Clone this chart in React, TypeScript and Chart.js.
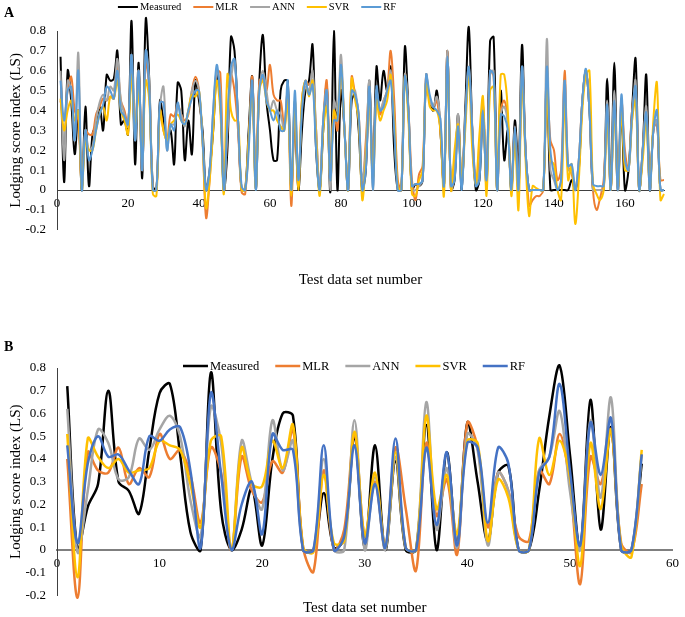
import React, { useEffect, useRef } from 'react';
import { Chart, registerables } from 'chart.js';
Chart.register(...registerables);

const seriesNames = ['Measured', 'MLR', 'ANN', 'SVR', 'RF'];
const xTicksA = [0, 20, 40, 60, 80, 100, 120, 140, 160];
const xTicksB = [0, 10, 20, 30, 40, 50, 60];
const yTicks = [-0.2, -0.1, 0, 0.1, 0.2, 0.3, 0.4, 0.5, 0.6, 0.7, 0.8];
const xTitle = 'Test data set number';
const yTitle = 'Lodging score index (LS)';

// Panel A (test data set numbers 1..171)
const measuredA = [.67,.04,.60,.45,.18,.40,.00,.42,.02,.28,.33,.42,.30,.58,.55,.56,.70,.33,.35,.28,.85,.13,.64,.06,.86,.55,.02,.00,.45,.35,.25,.30,.13,.54,.50,.15,.35,.18,.55,.45,.30,.00,.10,.30,.58,.45,.00,.20,.77,.70,.35,.00,.00,.30,.57,.00,.55,.78,.45,.30,.15,.15,.50,.55,.55,.00,.35,.00,.30,.50,.55,.73,.20,.00,.30,.53,-.01,.80,.00,.50,.30,.00,.45,.48,.30,.00,.10,.55,.06,.62,.45,.60,.50,.62,.20,.00,.00,.72,.40,.00,.03,.02,.05,.55,.45,.40,.50,.30,.02,.70,.00,.05,.38,.00,.40,.82,.30,.00,.05,.40,.02,.75,.77,.00,.50,.15,.30,.00,.35,.10,.73,.20,.00,.00,.00,.00,.00,.60,.00,.00,.00,.00,.00,.00,.05,.00,.10,.45,.60,.40,.00,.00,.00,.00,.56,.00,.64,.00,.40,.00,.10,.40,.66,.00,.20,.58,.00,.30,.35,.00,.00];
const mlrA = [.45,.35,.50,.57,.40,.35,.02,.30,.28,.28,.38,.42,.46,.45,.47,.46,.62,.45,.40,.33,.60,.30,.60,.10,.65,.50,.00,.00,.40,.30,.25,.38,.37,.43,.38,.35,.38,.50,.57,.50,.25,-.14,.05,.35,.60,.59,.00,.30,.58,.50,.30,-.01,-.02,.25,.57,.05,.55,.56,.50,.63,.48,.45,.45,.32,.50,-.08,.40,.02,.45,.55,.53,.55,.30,.00,.35,.55,.05,.40,.30,.60,.30,.00,.57,.48,.38,.00,.25,.50,.05,.50,.38,.45,.50,.70,.45,.05,.00,.58,.40,.05,-.05,.08,.12,.58,.45,.42,.45,.30,.02,.70,.00,.10,.35,.03,.35,.60,.30,.05,.15,.43,.05,.60,.57,.00,.40,.45,.35,.00,.32,.00,.60,.20,-.08,-.05,-.03,-.03,.00,.55,.25,.20,.05,.10,.60,.12,.08,.00,.15,.45,.58,.45,.00,-.10,-.04,.05,.40,.00,.45,.00,.45,.20,.10,.40,.50,.00,.20,.40,.02,.30,.35,.05,.05];
const annA = [.60,.15,.55,.50,.25,.69,.00,.30,.20,.22,.35,.44,.48,.45,.52,.50,.66,.45,.38,.32,.68,.25,.60,.10,.70,.55,.00,.00,.42,.52,.20,.33,.33,.42,.38,.32,.40,.50,.55,.50,.25,.00,.10,.40,.60,.50,.00,.30,.55,.65,.35,.00,.00,.25,.50,.00,.50,.60,.50,.40,.45,.40,.38,.30,.50,.00,.45,.05,.40,.52,.50,.60,.30,.00,.35,.50,.00,.45,.40,.68,.30,.00,.50,.50,.35,.05,.20,.55,.00,.50,.40,.45,.50,.60,.35,.00,.00,.58,.40,.00,.00,.02,.05,.58,.45,.42,.47,.35,.02,.70,.00,.08,.38,.02,.35,.62,.30,.03,.10,.42,.02,.58,.60,.00,.38,.42,.33,.00,.30,.00,.62,.20,.00,.00,.00,.00,.00,.76,.10,.05,.00,.05,.55,.10,.10,.00,.15,.45,.60,.40,.00,.00,.00,.00,.45,.00,.50,.00,.45,.15,.10,.35,.55,.00,.20,.42,.00,.30,.35,.00,.00];
const svrA = [.46,.30,.40,.45,.35,.40,.00,.25,.20,.20,.30,.38,.42,.35,.47,.46,.55,.40,.35,.28,.58,.30,.50,.15,.55,.45,-.02,-.03,.40,.30,.25,.33,.35,.38,.35,.33,.40,.48,.47,.50,.25,-.09,.05,.30,.55,.40,-.02,.58,.40,.35,.35,.00,.00,.25,.50,.00,.50,.55,.45,.40,.40,.35,.32,.30,.45,-.03,.45,.00,.45,.55,.47,.55,.25,-.03,.30,.42,.05,.40,.35,.62,.30,.00,.56,.45,.35,-.05,.15,.45,.05,.45,.35,.40,.45,.58,.35,.02,.00,.57,.35,-.02,-.03,.05,.10,.55,.42,.40,.40,.30,-.03,.65,.00,.20,.33,.05,.30,.58,.20,.03,.28,.47,-.03,.50,.52,.00,.58,.58,.40,-.03,.25,-.10,.55,.15,-.13,.02,.01,.00,.00,.50,.15,.13,.00,-.05,.45,.05,.13,-.17,.05,.40,.58,.60,.03,-.02,-.05,.00,.35,.00,.40,.00,.40,.10,.10,.35,.45,.00,.15,.35,.00,.35,.54,-.05,-.02];
const rfA = [.55,.35,.50,.52,.25,.60,.00,.30,.15,.20,.30,.38,.43,.52,.50,.46,.60,.40,.37,.33,.68,.25,.60,.10,.70,.50,.00,.00,.44,.44,.20,.33,.30,.44,.35,.33,.40,.46,.50,.50,.25,.00,.10,.40,.63,.45,.00,.35,.62,.66,.35,.02,.00,.20,.55,.00,.50,.58,.45,.40,.35,.40,.30,.30,.55,.00,.50,.05,.40,.55,.48,.53,.20,.00,.35,.50,.05,.35,.35,.63,.30,.00,.50,.48,.38,.00,.10,.52,.00,.52,.40,.42,.50,.55,.30,.00,.00,.57,.40,.02,.03,.03,.05,.58,.48,.42,.40,.36,.02,.67,.02,.05,.32,.00,.35,.62,.30,.02,.05,.40,.05,.60,.58,.00,.38,.37,.30,.00,.32,.00,.62,.20,.00,.00,.00,.00,.00,.62,.20,.08,.00,.05,.55,.12,.13,.00,.15,.45,.61,.40,.03,.02,.02,.02,.43,.00,.45,.00,.48,.15,.10,.38,.52,.00,.20,.39,.00,.30,.40,.00,.00];

// Panel B (test data set numbers 1..57)
const measuredB = [.72,.00,.19,.29,.70,.30,.26,.16,.44,.69,.73,.42,.08,.00,.78,.17,.00,.09,.27,.02,.40,.60,.59,.00,.00,.25,.01,.05,.50,.01,.46,.00,.39,.00,.00,.55,.00,.43,.02,.56,.30,.04,.34,.37,.00,.00,.26,.59,.81,.42,.01,.66,.09,.54,.00,.00,.38];
const mlrB = [.40,-.21,.43,.35,.34,.45,.29,.36,.32,.51,.40,.44,.33,.12,.45,.34,.00,.41,.26,.21,.39,.34,.53,.01,-.095,.35,.00,.09,.51,.06,.30,.01,.45,.18,-.09,.47,.15,.31,-.02,.56,.45,.10,.34,.26,.06,.04,.35,.29,.51,.29,-.15,.41,.29,.53,.03,-.01,.29];
const annB = [.62,-.01,.26,.53,.47,.31,.32,.49,.44,.53,.59,.50,.22,.06,.63,.47,.00,.48,.29,.18,.57,.35,.48,.00,.00,.40,.00,.00,.57,.00,.32,.00,.41,.01,.00,.65,.09,.36,.01,.51,.44,.02,.34,.26,.00,.00,.35,.41,.61,.26,.00,.57,.23,.67,.00,.00,.42];
const svrB = [.51,-.12,.49,.41,.36,.40,.34,.35,.36,.48,.46,.44,.29,.10,.48,.50,.00,.45,.29,.28,.48,.36,.55,.01,-.01,.33,.03,.04,.52,.06,.34,.01,.43,.01,.00,.59,.18,.33,.07,.48,.47,.04,.31,.23,.00,.00,.49,.33,.48,.32,-.07,.47,.18,.53,.02,-.03,.44];
const rfB = [.46,.03,.38,.50,.41,.42,.35,.29,.50,.48,.53,.54,.35,.01,.69,.33,.00,.20,.30,.07,.51,.44,.44,.00,.00,.46,.00,.06,.46,.03,.29,.01,.49,.01,.00,.45,.11,.43,.02,.47,.45,.12,.45,.38,.00,.00,.34,.41,.73,.35,.02,.56,.33,.58,.00,.00,.42];

const FONT = '"Liberation Serif", "Times New Roman", serif';

function decorPlugin(p: any) {
  return {
    id: 'decor' + p.letter,
    afterDraw(chart: any) {
      const ctx = chart.ctx;
      ctx.save();
      ctx.fillStyle = '#000';
      ctx.textBaseline = 'middle';
      ctx.textAlign = 'left';
      ctx.font = 'bold 14px ' + FONT;
      ctx.fillText(p.letter, 4, p.letterY);
      ctx.font = p.legendFont + 'px ' + FONT;
      const lineLen = p.legendLine, gap = 2, spacing = p.legendSpacing;
      const widths = seriesNames.map((n) => lineLen + gap + ctx.measureText(n).width);
      const total = widths.reduce((a, b) => a + b, 0) + spacing * (seriesNames.length - 1);
      let x = p.legendCx - total / 2;
      seriesNames.forEach((n, i) => {
        ctx.strokeStyle = p.colors[i];
        ctx.lineWidth = p.legendLW;
        ctx.beginPath();
        ctx.moveTo(x, p.legendY);
        ctx.lineTo(x + lineLen, p.legendY);
        ctx.stroke();
        ctx.fillStyle = '#000';
        ctx.fillText(n, x + lineLen + gap, p.legendY + 0.5);
        x += widths[i] + spacing;
      });
      ctx.restore();
    },
  };
}

function makeConfig(p: any) {
  return {
    type: 'line',
    data: {
      datasets: seriesNames.map((name, i) => ({
        label: name,
        data: p.series[i].map((v: number, j: number) => ({ x: j + 1, y: v })),
        borderColor: p.colors[i],
        backgroundColor: p.colors[i],
        borderWidth: p.lineWidth,
        pointRadius: 0,
        tension: 0.35,
        fill: false,
        clip: false,
        order: 5 - i,
      })),
    },
    options: {
      animation: false,
      responsive: false,
      events: [],
      elements: { line: { capBezierPoints: false } },
      layout: { padding: { top: p.padTop, right: p.padRight, left: 0, bottom: p.padBottom } },
      plugins: { legend: { display: false }, tooltip: { enabled: false } },
      scales: {
        x: {
          type: 'linear',
          position: { y: 0 },
          min: 0,
          max: p.xMax,
          grid: { display: false, drawTicks: false },
          border: { display: true, color: p.xBorderColor, width: p.xBorderWidth },
          ticks: { padding: 6, color: '#000', font: { size: 13, family: FONT }, maxRotation: 0, autoSkip: false, callback: (v: any) => String(v) },
          afterBuildTicks: (s: any) => { s.ticks = p.xTicks.map((v: number) => ({ value: v })); },
          afterFit: (s: any) => { s.height = p.xAxisH; },
          title: { display: true, text: xTitle, color: '#000', font: { size: 15, family: FONT }, padding: 0 },
        },
        y: {
          type: 'linear',
          position: 'left',
          min: -0.2,
          max: 0.8,
          grid: { display: false, drawTicks: false },
          border: { display: true, color: '#404040', width: 1 },
          ticks: { padding: 11, color: '#000', font: { size: 13, family: FONT }, callback: (v: any) => (Math.abs(v) < 1e-9 ? '0' : Number(v).toFixed(1)) },
          afterBuildTicks: (s: any) => { s.ticks = yTicks.map((v) => ({ value: v })); },
          afterFit: (s: any) => { s.width = 57; },
          title: { display: true, text: yTitle, color: '#000', font: { size: 15, family: FONT }, padding: { top: 7, bottom: 0 } },
        },
      },
    },
    plugins: [decorPlugin(p)],
  } as any;
}

export default function App() {
  const refA = useRef<HTMLCanvasElement>(null);
  const refB = useRef<HTMLCanvasElement>(null);
  useEffect(() => {
    const colorsA = ['#000000', '#ED7D31', '#A5A5A5', '#FFC000', '#5B9BD5'];
    const colorsB = ['#000000', '#ED7D31', '#A5A5A5', '#FFC000', '#4472C4'];
    const a = new Chart(refA.current as HTMLCanvasElement, makeConfig({
      series: [measuredA, mlrA, annA, svrA, rfA], colors: colorsA, lineWidth: 2,
      padTop: 31, padRight: 21, padBottom: 70.2, xMax: 171, xTicks: xTicksA, xAxisH: 99,
      xBorderColor: '#404040', xBorderWidth: 1,
      letter: 'A', letterY: 13, legendCx: 257, legendY: 7, legendLW: 2, legendFont: 10.5, legendLine: 20, legendSpacing: 12,
    }));
    const b = new Chart(refB.current as HTMLCanvasElement, makeConfig({
      series: [measuredB, mlrB, annB, svrB, rfB], colors: colorsB, lineWidth: 2.5,
      padTop: 51, padRight: 6, padBottom: 21.5, xMax: 60, xTicks: xTicksB, xAxisH: 67,
      xBorderColor: '#7F7F7F', xBorderWidth: 2,
      letter: 'B', letterY: 30, legendCx: 354, legendY: 49, legendLW: 2.5, legendFont: 12.5, legendLine: 25, legendSpacing: 16,
    }));
    return () => { a.destroy(); b.destroy(); };
  }, []);
  return (
    <div style={{ position: 'fixed', left: 0, top: 0, width: 685, height: 617, overflow: 'hidden', background: '#fff' }}>
      <canvas ref={refA} width={685} height={300} style={{ position: 'absolute', left: 0, top: 0 }} />
      <canvas ref={refB} width={685} height={300} style={{ position: 'absolute', left: 0, top: 317 }} />
    </div>
  );
}
